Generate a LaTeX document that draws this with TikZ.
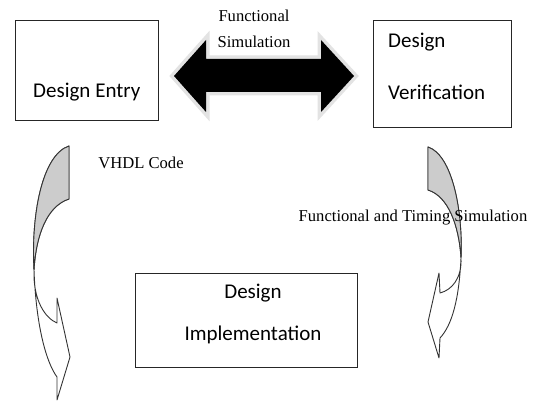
\documentclass[tikz,border=0pt]{standalone}
\usepackage{fontspec}
\setmainfont{Carlito}
\newfontfamily\simfont{Liberation Serif}
\usetikzlibrary{positioning,calc}
\tikzstyle{design_box}=[rectangle, draw=black!85, line width=0.9pt, inner sep=0pt, anchor=north west]
\tikzstyle{design_text}=[inner sep=0pt, font=\fontsize{21}{25}\selectfont]
\tikzstyle{sim_text}=[inner sep=0pt, font=\simfont\fontsize{16.6}{19}\selectfont]
\tikzstyle{curved_arrow}=[draw=black!80, line width=0.9pt, line join=round]
\tikzstyle{curved_arrow_back}=[curved_arrow, fill=gray!40]
\begin{document}
\begin{tikzpicture}[x=1pt,y=-1pt]

            \useasboundingbox[fill=white] (0,0) rectangle (533,401);

            % Design entry
            \node[design_box,minimum width=143pt,minimum height=100pt] (entry) at (15,20) {};
            \node[design_text,anchor=base west] (entry_label) at (33,98) {Design Entry};

            % Design verification
            \node[design_box,minimum width=138pt,minimum height=107pt] (verification) at (373,20) {};
            \node[design_text,anchor=base west] (verification_label1) at (388,48) {Design};
            \node[design_text,anchor=base west] (verification_label2) at (388,100) {Verification};

            % Design implementation
            \node[design_box,minimum width=222pt,minimum height=94pt] (implementation) at (135,273) {};
            \node[design_text,anchor=base] (implementation_label1) at (253,298) {Design};
            \node[design_text,anchor=base] (implementation_label2) at (253,340) {Implementation};

            % Functional simulation (double block arrow)
            \filldraw[draw=gray!22,line width=7pt,line join=miter,fill=black] (174,76) -- (206,40) -- (206,59) -- (321,59) -- (321,40) -- (354,76) -- (321,112) -- (321,92) -- (206,92) -- (206,112) -- cycle;
            \fill[black] (174,76) -- (206,40) -- (206,59) -- (321,59) -- (321,40) -- (354,76) -- (321,112) -- (321,92) -- (206,92) -- (206,112) -- cycle;
            \node[sim_text] (functional) at (254,16) {Functional};
            \node[sim_text] (simulation) at (254,42) {Simulation};

            % VHDL code (curved arrow, left)
            \draw[curved_arrow] (69,146) .. controls (42,155) and (31,215) .. (34,270) .. controls (36,325) and (46,362) .. (57,377) -- (57,400) -- (70,357) -- (57,298) -- (57,323) .. controls (45,318) and (33,300) .. (34,270) .. controls (36,235) and (47,206) .. (69,199) -- cycle;
            \draw[curved_arrow_back] (69,146) .. controls (42,155) and (31,215) .. (34,270) .. controls (36,235) and (47,206) .. (69,199) -- cycle;
            \node[sim_text] (vhdl) at (141,163) {VHDL Code};

            % Functional and timing simulation (curved arrow, right)
            \draw[curved_arrow] (428,147) .. controls (452,155) and (463,210) .. (461,258) .. controls (459,300) and (452,325) .. (440,338) -- (439,358) -- (428,322) -- (439,273) -- (440,293) .. controls (452,290) and (462,278) .. (461,258) .. controls (459,225) and (448,196) .. (428,190) -- cycle;
            \draw[curved_arrow_back] (428,147) .. controls (452,155) and (463,210) .. (461,258) .. controls (459,225) and (448,196) .. (428,190) -- cycle;
            \node[sim_text] (timing) at (413,218) {Functional and Timing Simulation};

        \end{tikzpicture}
\end{document}
